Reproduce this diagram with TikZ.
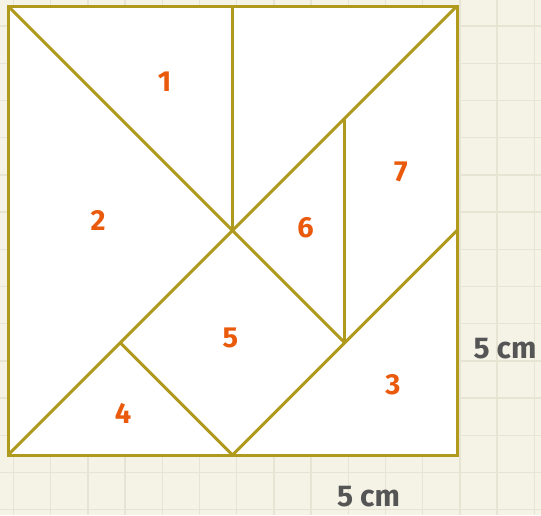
\documentclass[tikz,border=0pt]{standalone}
\usepackage{fontspec}
\setmainfont{Fira Sans}
\definecolor{bgcream}{HTML}{F5F2E6}
\definecolor{gridc}{HTML}{E8E4D3}
\definecolor{edgec}{HTML}{B09A1E}
\definecolor{labc}{HTML}{EA5A0C}
\definecolor{dimc}{HTML}{555555}
\tikzset{
  piece/.style={draw=edgec, line width=3pt, line join=miter},
  cut/.style={draw=edgec, line width=3pt},
  gridline/.style={draw=gridc, line width=1.4pt},
  plabel/.style={text=labc, font=\fontsize{29}{33}\selectfont\bfseries, inner sep=0pt, anchor=center},
  dimlabel/.style={text=dimc, font=\fontsize{30}{34}\selectfont\bfseries, inner sep=0pt, anchor=center}
}
\begin{document}
\begin{tikzpicture}[x=1pt, y=-1pt]
\fill[bgcream] (0,0) rectangle (541,515);
\useasboundingbox (0,0) rectangle (541,515);
\foreach \k in {0,...,14} { \draw[gridline] ({13.5+37.2*\k},0) -- ({13.5+37.2*\k},515); }
\foreach \k in {0,...,13} { \draw[gridline] (0,{26+37.2*\k}) -- (541,{26+37.2*\k}); }
% vertices
\coordinate (A) at (8,455);
\coordinate (B) at (457,455);
\coordinate (C) at (457,6);
\coordinate (D) at (8,6);
\coordinate (T) at (232.5,6);
\coordinate (O) at (232.5,230.5);
\coordinate (P) at (344.75,118.25);
\coordinate (Q) at (344.75,342.75);
\coordinate (L) at (120.25,342.75);
\coordinate (M) at (232.5,455);
\coordinate (R) at (457,230.5);
\fill[white] (A) rectangle (C);
\draw[cut] (D) -- (Q);
\draw[cut] (C) -- (A);
\draw[cut] (T) -- (O);
\draw[cut] (P) -- (Q);
\draw[cut] (L) -- (M);
\draw[cut] (M) -- (R);
\draw[piece] (A) -- (B) -- (C) -- (D) -- cycle;
% labels
\node[plabel] (n1) at (164.5,81.5) {1};
\node[plabel] (n2) at (98,220) {2};
\node[plabel] (n3) at (393,385) {3};
\node[plabel] (n4) at (123,413.5) {4};
\node[plabel] (n5) at (230.5,338) {5};
\node[plabel] (n6) at (305.5,227.5) {6};
\node[plabel] (n7) at (401,172) {7};
\node[dimlabel] (dr) at (505,349) {5 cm};
\node[dimlabel] (db) at (368.5,496.5) {5 cm};
\end{tikzpicture}
\end{document}
